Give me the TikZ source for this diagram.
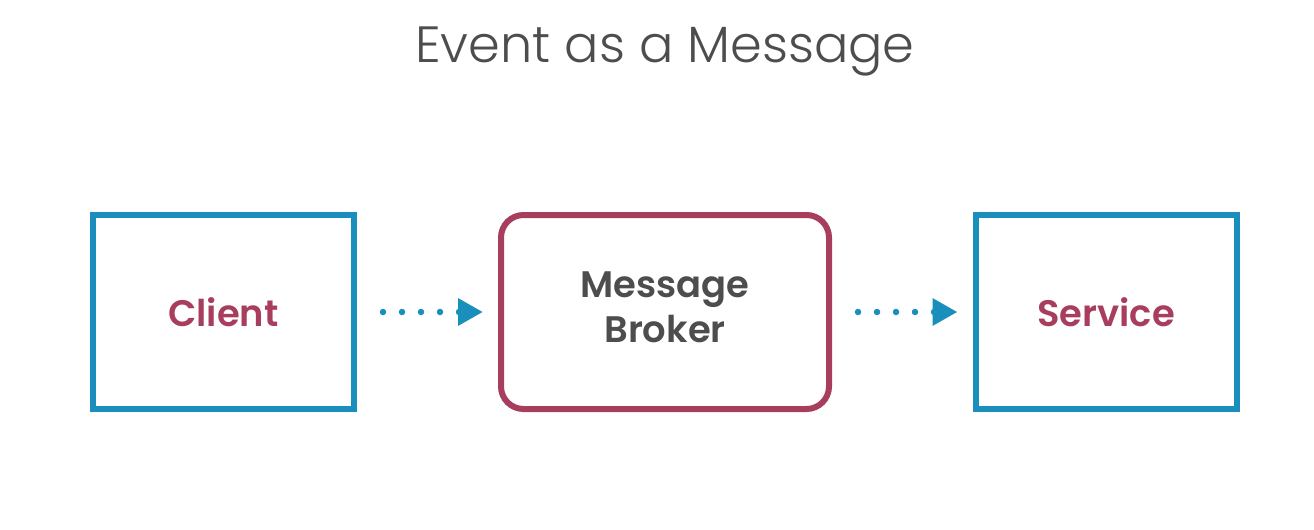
\documentclass[tikz,border=0pt]{standalone}
\usepackage{fontspec}
\setmainfont{Poppins}
\newfontfamily\titlefont{Poppins}[UprightFont=* Light]
\newfontfamily\labelfont{Poppins}[UprightFont=* SemiBold]
\usetikzlibrary{arrows.meta}
\definecolor{boxblue}{RGB}{26,143,187}
\definecolor{crimson}{RGB}{168,62,94}
\definecolor{darkgray}{RGB}{77,77,77}

\begin{document}
\begin{tikzpicture}[
        sq/.style={draw=boxblue, line width=0.12cm, minimum width=5.22cm, minimum height=3.88cm, inner sep=0pt},
        rbox/.style={draw=crimson, line width=0.12cm, rounded corners=0.45cm, minimum width=6.56cm, minimum height=3.88cm, inner sep=0pt},
        lbl/.style={font=\fontsize{21}{25}\labelfont},
        flow/.style={draw=boxblue, line width=0.13cm, line cap=round, dash pattern=on 0pt off 0.38cm,
            -{Triangle[length=0.5cm, width=0.52cm, line cap=butt]}}
    ]
        \useasboundingbox (0,0) rectangle (26.28,10.58);
        \node[text=darkgray, font=\fontsize{29}{35}\titlefont, anchor=base] (title) at (13.3,9.34) {Event as a Message};
        \node[sq] (client) at (4.47,4.34) {};
        \node[rbox] (broker) at (13.3,4.34) {};
        \node[sq] (service) at (22.12,4.34) {};
        \node[lbl, text=crimson] at (client) {Client};
        \node[lbl, text=darkgray, align=center, font=\fontsize{21}{25.5}\labelfont] at ([yshift=0.1cm]broker.center) {Message\\Broker};
        \node[lbl, text=crimson] at (service) {Service};
        \foreach \a/\b in {client/broker, broker/service} {
            \draw[flow, shorten <=0.52cm, shorten >=0.3cm] (\a.east) -- (\b.west);
        }
    \end{tikzpicture}
\end{document}
